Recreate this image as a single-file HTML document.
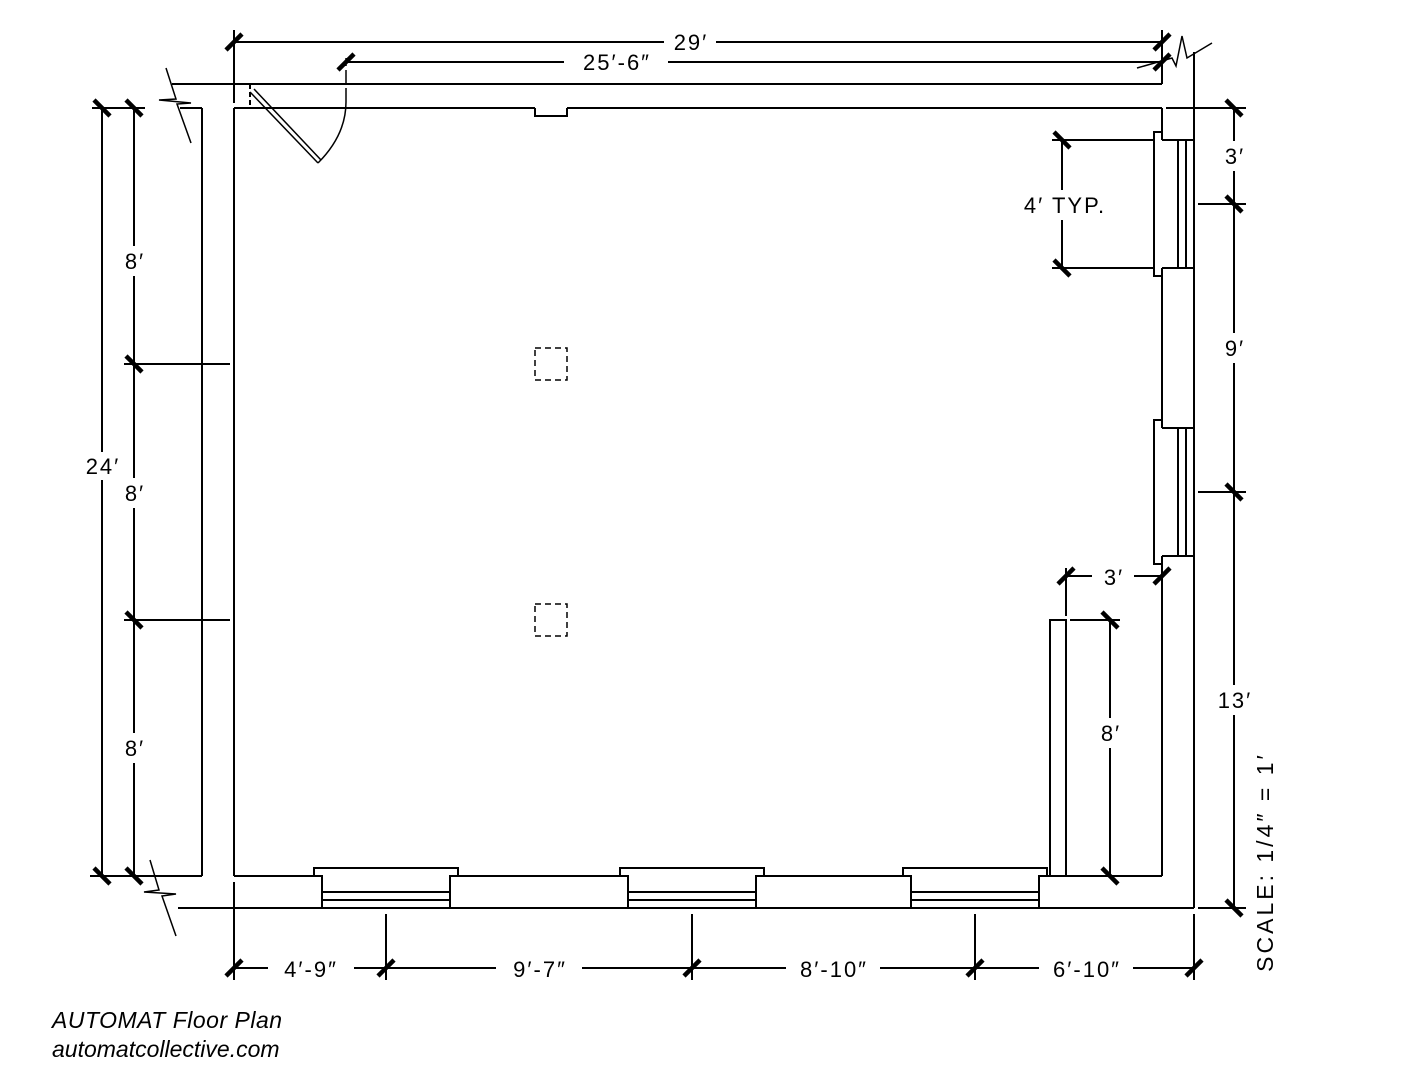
<!DOCTYPE html>
<html><head><meta charset="utf-8"><style>
html,body{margin:0;padding:0;background:#fff;}
svg{display:block;}
text{font-family:"Liberation Sans",sans-serif;fill:#000;}
</style></head><body>
<svg width="1408" height="1088" viewBox="0 0 1408 1088" xmlns="http://www.w3.org/2000/svg">
<g stroke="#000" stroke-width="2" fill="none">
<line x1="172" y1="84" x2="1162" y2="84"/>
<line x1="180" y1="108" x2="202" y2="108"/>
<line x1="234" y1="108" x2="535" y2="108"/>
<polyline points="535,108 535,116 567,116 567,108"/>
<line x1="567" y1="108" x2="1162" y2="108"/>
<line x1="202" y1="108" x2="202" y2="876"/>
<line x1="234" y1="108" x2="234" y2="876"/>
<line x1="234" y1="30" x2="234" y2="103"/>
<line x1="90" y1="876" x2="202" y2="876"/>
<line x1="1194" y1="52" x2="1194" y2="908"/>
<line x1="1162" y1="30" x2="1162" y2="84"/>
<line x1="1162" y1="108" x2="1162" y2="140"/>
<line x1="1162" y1="140" x2="1194" y2="140"/>
<polyline points="1162,132 1154,132 1154,276 1162,276"/>
<line x1="1178" y1="140" x2="1178" y2="268"/>
<line x1="1186" y1="140" x2="1186" y2="268"/>
<line x1="1162" y1="268" x2="1194" y2="268"/>
<line x1="1162" y1="268" x2="1162" y2="428"/>
<line x1="1162" y1="428" x2="1194" y2="428"/>
<polyline points="1162,420 1154,420 1154,564 1162,564"/>
<line x1="1178" y1="428" x2="1178" y2="556"/>
<line x1="1186" y1="428" x2="1186" y2="556"/>
<line x1="1162" y1="556" x2="1194" y2="556"/>
<line x1="1162" y1="556" x2="1162" y2="876"/>
<line x1="178" y1="908" x2="1194" y2="908"/>
<line x1="234" y1="876" x2="322" y2="876"/>
<line x1="450" y1="876" x2="628" y2="876"/>
<line x1="756" y1="876" x2="911" y2="876"/>
<line x1="1039" y1="876" x2="1162" y2="876"/>
<line x1="234" y1="882" x2="234" y2="980"/>
<polyline points="322,908 322,876 314,876 314,868 458,868 458,876 450,876 450,908"/>
<line x1="322" y1="892" x2="450" y2="892"/><line x1="322" y1="900" x2="450" y2="900"/>
<polyline points="628,908 628,876 620,876 620,868 764,868 764,876 756,876 756,908"/>
<line x1="628" y1="892" x2="756" y2="892"/><line x1="628" y1="900" x2="756" y2="900"/>
<polyline points="911,908 911,876 903,876 903,868 1047,868 1047,876 1039,876 1039,908"/>
<line x1="911" y1="892" x2="1039" y2="892"/><line x1="911" y1="900" x2="1039" y2="900"/>
<polyline points="1050,876 1050,620 1066,620 1066,876"/>
<line x1="1066" y1="568" x2="1066" y2="616"/>
<line x1="250" y1="84" x2="250" y2="108" stroke-dasharray="5,3"/>
<line x1="250" y1="92" x2="318" y2="163" stroke-width="1.5"/>
<line x1="254" y1="89" x2="321" y2="160" stroke-width="1.5"/>
<path d="M318,163 Q346,135 346,102" stroke-width="1.5"/>
<line x1="346" y1="102" x2="346" y2="58" stroke-width="1.5" stroke-dasharray="14,4"/>
<rect x="535" y="348" width="32" height="32" stroke-dasharray="6,4" stroke-width="1.5"/>
<rect x="535" y="604" width="32" height="32" stroke-dasharray="6,4" stroke-width="1.5"/>
<polyline points="166,68 176,99 159,100 191,103 177,104 191,143" stroke-width="1.5"/>
<polyline points="150,860 159,890 144,892 176,894 162,896 176,936" stroke-width="1.5"/>
<polyline points="1137,68 1172,58 1176,66 1182,36 1187,58 1212,43" stroke-width="1.5"/>
<line x1="234" y1="42" x2="1162" y2="42"/>
<line x1="346" y1="62" x2="1162" y2="62"/>
<line x1="102" y1="108" x2="102" y2="876"/>
<line x1="134" y1="108" x2="134" y2="876"/>
<line x1="92" y1="108" x2="145" y2="108"/>
<line x1="124" y1="364" x2="230" y2="364"/>
<line x1="124" y1="620" x2="230" y2="620"/>
<line x1="1234" y1="108" x2="1234" y2="908"/>
<line x1="1166" y1="108" x2="1246" y2="108"/>
<line x1="1198" y1="204" x2="1246" y2="204"/>
<line x1="1198" y1="492" x2="1246" y2="492"/>
<line x1="1198" y1="908" x2="1246" y2="908"/>
<line x1="1062" y1="140" x2="1062" y2="268"/>
<line x1="1052" y1="140" x2="1154" y2="140"/>
<line x1="1052" y1="268" x2="1154" y2="268"/>
<line x1="1066" y1="576" x2="1162" y2="576"/>
<line x1="1110" y1="620" x2="1110" y2="876"/>
<line x1="1070" y1="620" x2="1120" y2="620"/>
<line x1="1070" y1="876" x2="1120" y2="876"/>
<line x1="234" y1="968" x2="1194" y2="968"/>
<line x1="386" y1="914" x2="386" y2="980"/>
<line x1="692" y1="914" x2="692" y2="980"/>
<line x1="975" y1="914" x2="975" y2="980"/>
<line x1="1194" y1="914" x2="1194" y2="980"/>
</g>
<g stroke="#000" stroke-width="4.5">
<line x1="226" y1="50" x2="242" y2="34"/><line x1="1154" y1="50" x2="1170" y2="34"/>
<line x1="338" y1="70" x2="354" y2="54"/><line x1="1154" y1="70" x2="1170" y2="54"/>
<line x1="94" y1="100" x2="110" y2="116"/><line x1="94" y1="868" x2="110" y2="884"/>
<line x1="126" y1="100" x2="142" y2="116"/><line x1="126" y1="356" x2="142" y2="372"/>
<line x1="126" y1="612" x2="142" y2="628"/><line x1="126" y1="868" x2="142" y2="884"/>
<line x1="1226" y1="100" x2="1242" y2="116"/><line x1="1226" y1="196" x2="1242" y2="212"/>
<line x1="1226" y1="484" x2="1242" y2="500"/><line x1="1226" y1="900" x2="1242" y2="916"/>
<line x1="1054" y1="132" x2="1070" y2="148"/><line x1="1054" y1="260" x2="1070" y2="276"/>
<line x1="1058" y1="584" x2="1074" y2="568"/><line x1="1154" y1="584" x2="1170" y2="568"/>
<line x1="1102" y1="612" x2="1118" y2="628"/><line x1="1102" y1="868" x2="1118" y2="884"/>
<line x1="226" y1="976" x2="242" y2="960"/><line x1="378" y1="976" x2="394" y2="960"/>
<line x1="684" y1="976" x2="700" y2="960"/><line x1="967" y1="976" x2="983" y2="960"/>
<line x1="1186" y1="976" x2="1202" y2="960"/>
</g>
<g fill="#fff">
<rect x="664" y="32" width="52" height="20"/>
<rect x="564" y="52" width="104" height="20"/>
<rect x="76" y="452" width="52" height="28"/>
<rect x="118" y="246" width="32" height="30"/>
<rect x="118" y="478" width="32" height="30"/>
<rect x="118" y="733" width="32" height="30"/>
<rect x="1216" y="141" width="36" height="30"/>
<rect x="1216" y="333" width="36" height="30"/>
<rect x="1208" y="685" width="52" height="30"/>
<rect x="1008" y="190" width="112" height="30"/>
<rect x="1092" y="718" width="36" height="30"/>
<rect x="1092" y="566" width="42" height="20"/>
<rect x="268" y="958" width="86" height="20"/>
<rect x="496" y="958" width="86" height="20"/>
<rect x="786" y="958" width="94" height="20"/>
<rect x="1039" y="958" width="94" height="20"/>
</g>
<g font-size="22" text-anchor="middle" letter-spacing="2">
<text x="691" y="50">29′</text>
<text x="617" y="70">25′-6″</text>
<text x="103" y="474">24′</text>
<text x="135" y="269">8′</text>
<text x="135" y="501">8′</text>
<text x="135" y="756">8′</text>
<text x="1235" y="164">3′</text>
<text x="1235" y="356">9′</text>
<text x="1235" y="708">13′</text>
<text x="1065" y="213">4′  TYP.</text>
<text x="1111" y="741">8′</text>
<text x="1114" y="585">3′</text>
<text x="311" y="977">4′-9″</text>
<text x="540" y="977">9′-7″</text>
<text x="834" y="977">8′-10″</text>
<text x="1087" y="977">6′-10″</text>
<text x="0" y="0" transform="translate(1273,862) rotate(-90)" font-size="23" letter-spacing="3">SCALE: 1/4″ = 1′</text>
</g>
<text x="52" y="1028" font-size="23" font-style="italic" letter-spacing="0.5">AUTOMAT Floor Plan</text>
<text x="52" y="1057" font-size="23" font-style="italic">automatcollective.com</text>
</svg>
</body></html>
